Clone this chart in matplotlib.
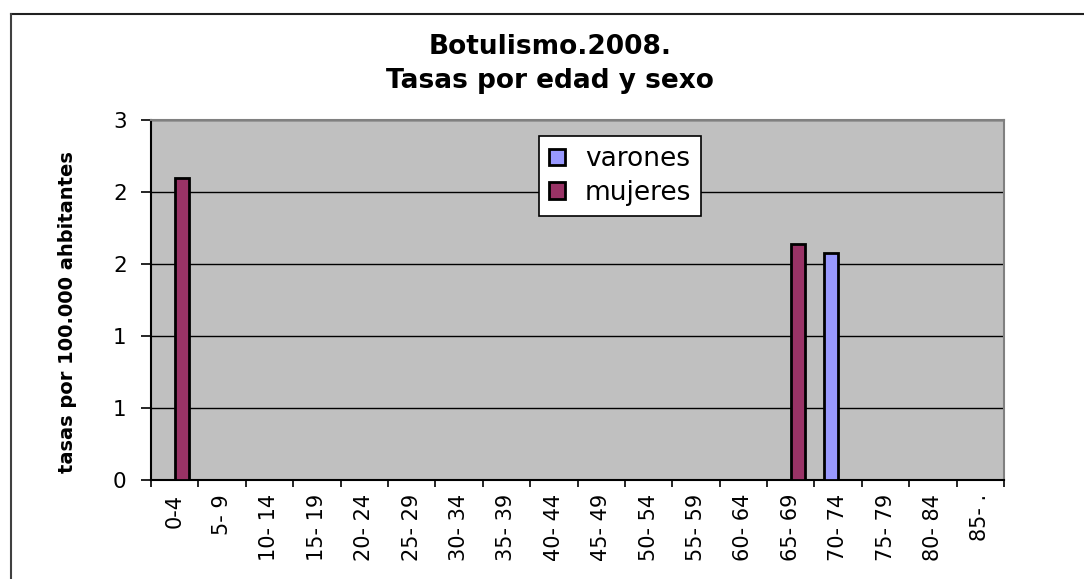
import matplotlib
matplotlib.use("Agg")
import matplotlib.pyplot as plt
from matplotlib.lines import Line2D
from matplotlib.ticker import FixedLocator, FuncFormatter
import numpy as np

# Age groups and rates per 100,000 inhabitants
age_groups = ["0-4", "5- 9", "10- 14", "15- 19", "20- 24", "25- 29", "30- 34",
              "35- 39", "40- 44", "45- 49", "50- 54", "55- 59", "60- 64",
              "65- 69", "70- 74", "75- 79", "80- 84", "85- ."]
varones = [0, 0, 0, 0, 0, 0, 0, 0, 0, 0, 0, 0, 0, 0, 1.89, 0, 0, 0]
mujeres = [2.52, 0, 0, 0, 0, 0, 0, 0, 0, 0, 0, 0, 0, 1.97, 0, 0, 0, 0]
y_ticks = [0, 0.6, 1.2, 1.8, 2.4, 3.0]

title = "Botulismo.2008.\nTasas por edad y sexo"
ylabel = "tasas por 100.000 ahbitantes"

W, H = 1084, 579
fig = plt.figure(figsize=(W / 100, H / 100), dpi=100)
fig.patch.set_facecolor("white")

# plot area in pixel coordinates
left, right, top, bottom = 151, 1004, 120, 480
ax = fig.add_axes([left / W, 1 - bottom / H, (right - left) / W, (bottom - top) / H])
ax.set_facecolor("#C0C0C0")

x = np.arange(len(age_groups))
bw = 0.30
ax.bar(x - bw / 2, varones, bw, color="#9999FF", edgecolor="black",
       linewidth=2.0, label="varones", zorder=3)
ax.bar(x + bw / 2, mujeres, bw, color="#993366", edgecolor="black",
       linewidth=2.0, label="mujeres", zorder=3)

ax.set_xlim(-0.5, len(age_groups) - 0.5)
ax.set_ylim(0, 3)

ax.yaxis.set_major_locator(FixedLocator(y_ticks))
ax.yaxis.set_major_formatter(FuncFormatter(lambda v, p: f"{v:.0f}"))
ax.grid(axis="y", color="black", linewidth=1.0, zorder=1)
ax.set_axisbelow(True)

ax.set_xticks(x)
ax.set_xticklabels(age_groups, rotation=90, va="top", ha="center",
                   fontsize=15, family="DejaVu Sans")
ax.set_xticks(np.arange(len(age_groups) + 1) - 0.5, minor=True)
ax.tick_params(axis="x", which="major", length=0, pad=10)
ax.tick_params(axis="x", which="minor", length=5, width=1.2, color="black")
ax.tick_params(axis="y", length=7.5, width=1.2, pad=10, labelsize=15.5)

for side in ("top", "right"):
    ax.spines[side].set_color("#808080")
    ax.spines[side].set_linewidth(1.5)
for side in ("left", "bottom"):
    ax.spines[side].set_color("black")
    ax.spines[side].set_linewidth(1.5)

leg = ax.legend(loc="upper left", bbox_to_anchor=(0.455, 0.955),
                fontsize=19, frameon=True, fancybox=False, shadow=False,
                framealpha=1.0, handlelength=0.6, handleheight=0.6,
                handletextpad=0.75, borderpad=0.38, labelspacing=0.3,
                borderaxespad=0)
leg.get_frame().set_edgecolor("black")
leg.get_frame().set_linewidth(1.2)
leg.get_frame().set_facecolor("white")
for h in leg.legend_handles:
    h.set_linewidth(2.0)

fig.text(550 / W, 1 - 64 / H, title, ha="center", va="center",
         fontsize=19, fontweight="bold", family="DejaVu Sans", linespacing=1.35)

fig.text(68 / W, 1 - 312 / H, ylabel, rotation=90, ha="center", va="center",
         fontsize=14, fontweight="bold", family="DejaVu Sans")

# chart frame lines
fig.add_artist(Line2D([11 / W, 1.0], [1 - 14 / H, 1 - 14 / H],
                      color="#202020", linewidth=1.5, transform=fig.transFigure))
fig.add_artist(Line2D([11 / W, 11 / W], [0.0, 1 - 14 / H],
                      color="#404040", linewidth=1.5, transform=fig.transFigure))

fig.savefig("out.png", dpi=100)
